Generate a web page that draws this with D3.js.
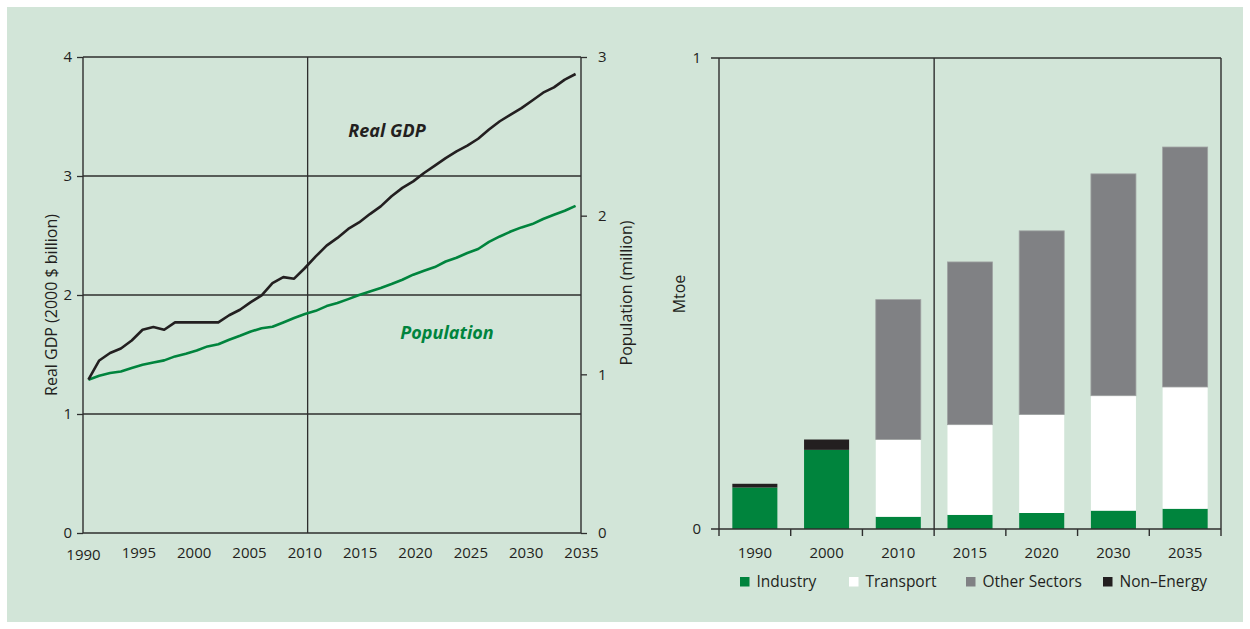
<!DOCTYPE html>
<html>
<head>
<meta charset="utf-8">
<script src="https://cdn.jsdelivr.net/npm/d3@7"></script>
<style>
  html, body { margin: 0; padding: 0; background: #ffffff; }
  svg { display: block; font-family: "Open Sans", "Noto Sans", sans-serif; }
</style>
</head>
<body>
<svg id="chart" width="1250" height="629"></svg>
<script>
// ---------- DATA ----------
const years = d3.range(1990, 2036);
const gdp = [1.288, 1.45, 1.513, 1.551, 1.618, 1.708, 1.731, 1.708, 1.77, 1.77,
             1.77, 1.77, 1.77, 1.83, 1.876, 1.94, 1.997, 2.10, 2.15, 2.137,
             2.227, 2.324, 2.415, 2.48, 2.555, 2.61, 2.68, 2.745, 2.83, 2.90,
             2.955, 3.025, 3.087, 3.15, 3.207, 3.255, 3.313, 3.39, 3.46, 3.515,
             3.57, 3.635, 3.70, 3.745, 3.81, 3.857];
const population = [0.966, 0.991, 1.008, 1.018, 1.04, 1.06, 1.075, 1.088, 1.113, 1.13,
                    1.15, 1.176, 1.19, 1.218, 1.243, 1.27, 1.29, 1.30, 1.327, 1.355,
                    1.38, 1.40, 1.43, 1.449, 1.474, 1.50, 1.522, 1.544, 1.569, 1.596,
                    1.628, 1.653, 1.676, 1.711, 1.735, 1.765, 1.79, 1.835, 1.869, 1.90,
                    1.926, 1.947, 1.979, 2.006, 2.031, 2.062];
const xTickYears = [1990, 1995, 2000, 2005, 2010, 2015, 2020, 2025, 2030, 2035];
const gdpTicks = [0, 1, 2, 3, 4];
const popTicks = [0, 1, 2, 3];
const projectionStart = 2010;

const categories = ["1990", "2000", "2010", "2015", "2020", "2030", "2035"];
const industry  = [0.088, 0.168, 0.026, 0.030, 0.034, 0.039, 0.043];
const transport = [0, 0, 0.164, 0.1915, 0.209, 0.244, 0.2585];
const otherSectors = [0, 0, 0.297, 0.3455, 0.39, 0.471, 0.5095];
const nonEnergy = [0.008, 0.022, 0, 0, 0, 0, 0];
const seriesNames = ["Industry", "Transport", "Other Sectors", "Non\u2013Energy"];
const mtoeTicks = [0, 1];

// ---------- STYLE ----------
const BG = "#d2e5d8";
const GREEN = "#00843d";
const DARK = "#231f20";
const GRAY = "#808184";
const AXIS = "#2e2e2e";
const colors = [GREEN, "#ffffff", GRAY, DARK];

const svg = d3.select("#chart");
svg.append("rect").attr("x", 7).attr("y", 7).attr("width", 1236).attr("height", 615).attr("fill", BG);

// ---------- LEFT CHART ----------
const L = { x0: 83, x1: 581, y0: 57, y1: 533 };
const xAx = d3.scaleLinear().domain([1990, 2035]).range([L.x0, L.x1]);
const xPt = d3.scalePoint().domain(years).range([L.x0, L.x1]).padding(0.5);
const yG = d3.scaleLinear().domain([0, 4]).range([L.y1, L.y0]);
const yP = d3.scaleLinear().domain([0, 3]).range([L.y1, L.y0]);

const left = svg.append("g");
left.selectAll("line.grid").data(gdpTicks.filter(d => d > 0)).join("line")
  .attr("x1", L.x0).attr("x2", L.x1).attr("y1", d => yG(d)).attr("y2", d => yG(d))
  .attr("stroke", AXIS).attr("stroke-width", 1.3);
const divX = xPt(projectionStart) + xPt.step() / 4;
left.append("line").attr("x1", divX).attr("x2", divX).attr("y1", L.y0).attr("y2", L.y1)
  .attr("stroke", AXIS).attr("stroke-width", 1.3);
left.append("line").attr("x1", L.x0).attr("x2", L.x0).attr("y1", L.y0).attr("y2", L.y1).attr("stroke", AXIS).attr("stroke-width", 1.4);
left.append("line").attr("x1", L.x1).attr("x2", L.x1).attr("y1", L.y0).attr("y2", L.y1).attr("stroke", AXIS).attr("stroke-width", 1.4);
left.append("line").attr("x1", L.x0).attr("x2", L.x1).attr("y1", L.y1).attr("y2", L.y1).attr("stroke", AXIS).attr("stroke-width", 1.4);

function styleAxis(g, size) {
  g.select(".domain").remove();
  g.selectAll(".tick line").attr("stroke", AXIS).attr("stroke-width", 1.3);
  g.selectAll(".tick text").attr("fill", "#231f20").style("font-size", size + "px")
    .style("font-family", "'Open Sans', sans-serif");
}
left.append("g").attr("transform", `translate(${L.x0},0)`)
  .call(d3.axisLeft(yG).tickValues(gdpTicks).tickSize(6).tickPadding(5).tickFormat(d3.format("d")))
  .call(g => styleAxis(g, 15));
left.append("g").attr("transform", `translate(${L.x1},0)`)
  .call(d3.axisRight(yP).tickValues(popTicks).tickSize(6).tickPadding(11).tickFormat(d3.format("d")))
  .call(g => styleAxis(g, 15));
left.append("g").attr("transform", `translate(0,${L.y1})`)
  .call(d3.axisBottom(xAx).tickValues(xTickYears).tickSize(0).tickPadding(14).tickFormat(d3.format("d")))
  .call(g => styleAxis(g, 15))
  .call(g => g.selectAll(".tick text").filter(d => d === 1990).attr("y", 16));

const lineG = d3.line().x((d, i) => xPt(years[i])).y(d => yG(d));
const lineP = d3.line().x((d, i) => xPt(years[i])).y(d => yP(d));
left.append("path").datum(population).attr("d", lineP).attr("fill", "none")
  .attr("stroke", GREEN).attr("stroke-width", 2.6).attr("stroke-linejoin", "round");
left.append("path").datum(gdp).attr("d", lineG).attr("fill", "none")
  .attr("stroke", DARK).attr("stroke-width", 2.6).attr("stroke-linejoin", "round");

left.append("text").attr("x", 387).attr("y", 137).attr("text-anchor", "middle")
  .style("font-size", "18px").style("font-weight", 700).style("font-style", "italic")
  .attr("fill", DARK).text("Real GDP");
left.append("text").attr("x", 447).attr("y", 339).attr("text-anchor", "middle")
  .style("font-size", "18px").style("font-weight", 700).style("font-style", "italic")
  .attr("fill", GREEN).text("Population");

left.append("text").attr("transform", `translate(57,305) rotate(-90)`).attr("text-anchor", "middle")
  .style("font-size", "16px").attr("fill", DARK).text("Real GDP (2000 $ billion)");
left.append("text").attr("transform", `translate(632,293) rotate(-90)`).attr("text-anchor", "middle")
  .style("font-size", "16px").attr("fill", DARK).text("Population (million)");

// ---------- RIGHT CHART ----------
const R = { x0: 719, x1: 1221, y0: 58, y1: 529 };
const xB = d3.scaleBand().domain(categories).range([R.x0, R.x1]).paddingInner(0.372).paddingOuter(0.186);
const yR = d3.scaleLinear().domain([0, 1]).range([R.y1, R.y0]);
const right = svg.append("g");

const table = categories.map((c, i) => ({
  cat: c, Industry: industry[i], Transport: transport[i],
  "Other Sectors": otherSectors[i], "Non\u2013Energy": nonEnergy[i]
}));
const stack = d3.stack().keys(seriesNames)(table);
right.selectAll("g.layer").data(stack).join("g")
  .attr("fill", (d, i) => colors[i])
  .selectAll("rect").data(d => d.filter(p => p[1] - p[0] > 0)).join("rect")
  .attr("x", d => xB(d.data.cat)).attr("width", xB.bandwidth())
  .attr("y", d => yR(d[1])).attr("height", d => yR(d[0]) - yR(d[1]));
right.selectAll("g.layer2").data([stack[2]]).join("g")
  .selectAll("rect").data(d => d.filter(p => p[1] - p[0] > 0)).join("rect")
  .attr("x", d => xB(d.data.cat)).attr("width", xB.bandwidth())
  .attr("y", d => yR(d[1])).attr("height", d => yR(d[0]) - yR(d[1]))
  .attr("fill", "none").attr("stroke", "#9fa2a2").attr("stroke-width", 0.8);

const step = xB.step();
const bounds = d3.range(categories.length + 1).map(i => R.x0 + i * step);
right.append("line").attr("x1", R.x0 - 8).attr("x2", R.x1).attr("y1", yR(1)).attr("y2", yR(1)).attr("stroke", AXIS).attr("stroke-width", 1.4);
right.append("line").attr("x1", R.x0 - 8).attr("x2", R.x1).attr("y1", yR(0)).attr("y2", yR(0)).attr("stroke", AXIS).attr("stroke-width", 1.4);
right.selectAll("line.b").data(bounds).join("line")
  .attr("x1", d => d).attr("x2", d => d).attr("y1", yR(0)).attr("y2", yR(0) + 7)
  .attr("stroke", AXIS).attr("stroke-width", 1.4);
const splitIdx = categories.indexOf("2015");
[R.x0, bounds[splitIdx], R.x1].forEach(x => {
  right.append("line").attr("x1", x).attr("x2", x).attr("y1", R.y0).attr("y2", yR(0))
    .attr("stroke", AXIS).attr("stroke-width", 1.4);
});
right.selectAll("text.yt").data(mtoeTicks).join("text")
  .attr("x", R.x0 - 18).attr("y", d => yR(d)).attr("dy", "0.35em").attr("text-anchor", "end")
  .style("font-size", "15px").attr("fill", DARK).text(d => d);
right.append("g").attr("transform", `translate(0,${R.y1})`)
  .call(d3.axisBottom(xB).tickSize(0).tickPadding(18))
  .call(g => styleAxis(g, 15));
right.append("text").attr("transform", `translate(685,294) rotate(-90)`).attr("text-anchor", "middle")
  .style("font-size", "16px").attr("fill", DARK).text("Mtoe");

const legendX = [740, 849, 966, 1103];
const leg = right.selectAll("g.leg").data(seriesNames).join("g")
  .attr("transform", (d, i) => `translate(${legendX[i]},582)`);
leg.append("rect").attr("x", 0).attr("y", -5).attr("width", 9.5).attr("height", 9.5)
  .attr("fill", (d, i) => colors[i]);
leg.append("text").attr("x", 16.5).attr("y", 0).attr("dy", "0.35em")
  .style("font-size", "15.5px").attr("fill", DARK).text(d => d);
</script>
</body>
</html>
